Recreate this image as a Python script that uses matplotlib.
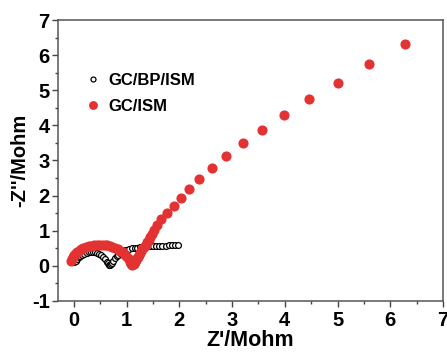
import matplotlib
matplotlib.use("Agg")
import matplotlib.pyplot as plt

plt.rcParams['font.family'] = ['Liberation Sans', 'DejaVu Sans']
plt.rcParams['font.weight'] = 'bold'
plt.rcParams['axes.unicode_minus'] = False

# GC/BP/ISM (open black circles)
bp_x = [0.0, 0.03, 0.06, 0.09, 0.12, 0.16, 0.20, 0.24, 0.28, 0.32, 0.36, 0.40, 0.44, 0.48,
        0.52, 0.56, 0.59, 0.62, 0.64, 0.66, 0.68, 0.70, 0.72, 0.75, 0.78, 0.81, 0.84, 0.88,
        0.92, 0.96, 1.00, 1.05, 1.10, 1.15, 1.20, 1.26, 1.32, 1.38, 1.44, 1.50, 1.56, 1.62,
        1.68, 1.74, 1.80, 1.86, 1.92, 1.97]
bp_y = [0.10, 0.15, 0.20, 0.24, 0.28, 0.31, 0.34, 0.37, 0.39, 0.40, 0.40, 0.39, 0.37, 0.34,
        0.30, 0.24, 0.18, 0.12, 0.07, 0.03, 0.01, 0.04, 0.09, 0.15, 0.21, 0.27, 0.32, 0.37,
        0.41, 0.44, 0.46, 0.48, 0.50, 0.51, 0.52, 0.53, 0.54, 0.55, 0.55, 0.56, 0.56, 0.57,
        0.57, 0.57, 0.58, 0.58, 0.58, 0.58]

# GC/ISM (filled red circles)
ism_x = [-0.05, -0.04, -0.02, 0.0, 0.03, 0.06, 0.10, 0.14, 0.18, 0.23, 0.28, 0.33, 0.38,
         0.43, 0.48, 0.53, 0.58, 0.63, 0.68, 0.73, 0.78, 0.83, 0.88, 0.93, 0.97, 1.01, 1.04,
         1.07, 1.09, 1.11, 1.13, 1.15, 1.17, 1.19, 1.21, 1.23, 1.25, 1.27, 1.30, 1.33, 1.36,
         1.39, 1.42, 1.45, 1.48, 1.52, 1.57, 1.65, 1.76, 1.89, 2.03, 2.19, 2.38, 2.61, 2.88,
         3.20, 3.57, 3.99, 4.46, 5.00, 5.60, 6.28]
ism_y = [0.15, 0.20, 0.25, 0.30, 0.35, 0.39, 0.43, 0.47, 0.50, 0.53, 0.55, 0.57, 0.58,
         0.59, 0.60, 0.60, 0.59, 0.58, 0.56, 0.54, 0.51, 0.47, 0.43, 0.38, 0.32, 0.25, 0.18,
         0.11, 0.05, 0.02, 0.06, 0.11, 0.16, 0.21, 0.26, 0.31, 0.36, 0.41, 0.47, 0.53, 0.60,
         0.67, 0.74, 0.82, 0.90, 1.02, 1.16, 1.32, 1.49, 1.70, 1.93, 2.18, 2.46, 2.78, 3.13,
         3.50, 3.88, 4.30, 4.75, 5.22, 5.74, 6.31]

fig = plt.figure(figsize=(4.47, 3.54), dpi=100)
ax = fig.add_axes([0.130, 0.150, 0.861, 0.7935])

ax.plot(ism_x, ism_y, 'o', color='#e23232', ms=6.3, mec='#e23232', label='GC/ISM', zorder=2)
ax.plot(bp_x, bp_y, 'o', mfc='white', mec='black', ms=4.2, mew=0.9, label='GC/BP/ISM', zorder=1)

ax.set_xlim(-0.3, 7)
ax.set_ylim(-1, 7)
ax.set_xticks(range(0, 8))
ax.set_yticks(range(-1, 8))
ax.set_xticks([i + 0.5 for i in range(0, 7)], minor=True)
ax.set_yticks([i + 0.5 for i in range(-1, 7)], minor=True)
ax.tick_params(which='major', direction='out', length=4, width=1, labelsize=14.5, color='#444444')
ax.tick_params(which='minor', direction='out', length=2, width=1, color='#444444')
ax.tick_params(axis='x', pad=3)
ax.tick_params(axis='y', pad=2)
for s in ax.spines.values():
    s.set_color('#555555')
    s.set_linewidth(1.1)

ax.set_xlabel("Z'/Mohm", fontsize=15.5, fontweight='bold', labelpad=0)
ax.set_ylabel("-Z''/Mohm", fontsize=14.5, fontweight='bold', labelpad=2)

h, l = ax.get_legend_handles_labels()
ax.legend([h[1], h[0]], [l[1], l[0]], loc='upper left', bbox_to_anchor=(0.03, 0.865),
          frameon=False, handletextpad=0.4, labelspacing=0.65, markerscale=0.85,
          handlelength=1.0, prop={'weight': 'bold', 'size': 12})

fig.savefig('out.png', dpi=100)
